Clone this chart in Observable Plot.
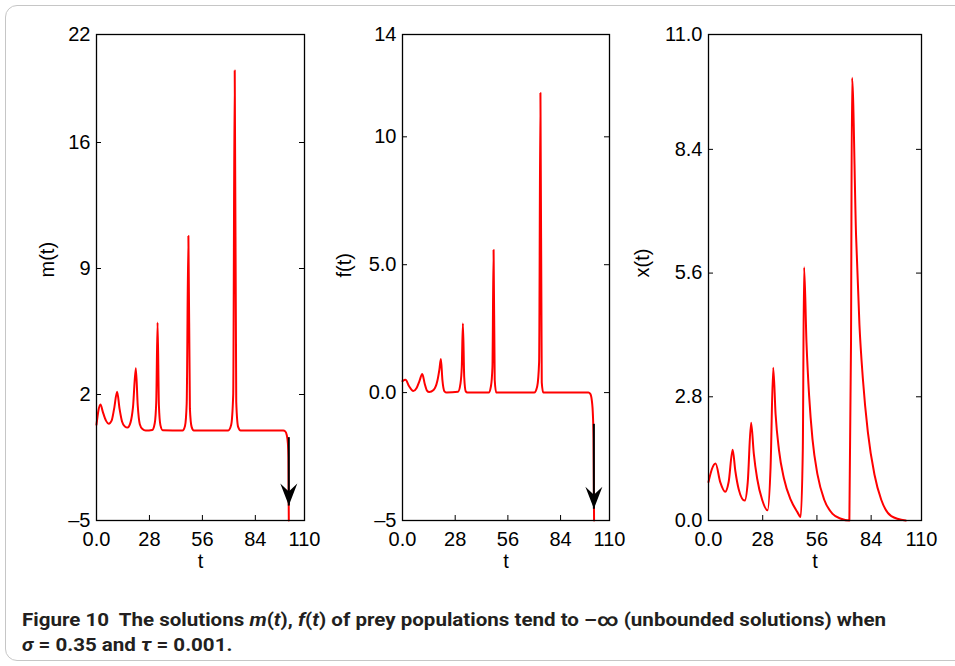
<!DOCTYPE html>
<html>
<head>
<meta charset="utf-8">
<script src="https://cdn.jsdelivr.net/npm/d3@7"></script>
<script src="https://cdn.jsdelivr.net/npm/@observablehq/plot@0.6"></script>
<style>
  html, body { margin: 0; padding: 0; background: #fff; }
  body { width: 955px; height: 666px; overflow: hidden; position: relative; font-family: "Liberation Sans", Arial, sans-serif; }
  #border { position: absolute; left: 5px; top: 5px; width: 1000px; height: 656px; border: 1px solid #c6c6c6; border-radius: 12px; box-sizing: border-box; }
  .panel { position: absolute; top: 0; }
  #caption { position: absolute; left: 22px; top: 607px; font-family: Roboto, "Open Sans", sans-serif; font-weight: 700; font-size: 18px; line-height: 25px; color: #231f20; transform-origin: 0 0; white-space: nowrap; }
</style>
</head>
<body>
<div id="border"></div>
<div id="p1" class="panel"></div>
<div id="p2" class="panel"></div>
<div id="p3" class="panel"></div>
<div id="caption">
  <div id="cap1">Figure 10&nbsp; The solutions <i>m</i>(<i>t</i>), <i>f</i>(<i>t</i>) of prey populations tend to –∞ (unbounded solutions) when</div>
  <div><i>σ</i> = 0.35 and <i>τ</i> = 0.001.</div>
</div>
<script>
// ---- shared x axis ----
const xTicks = [0, 28, 56, 84, 110];
const xTickLabels = ["0.0", "28", "56", "84", "110"];

// ---- panel 1: m(t) ----
const mTicks = [-5, 2, 9, 16, 22];
const mTickLabels = ["–5", "2", "9", "16", "22"];
const tM = [0, 1.0, 2.1, 3.3, 5.0, 6.5, 8.0, 9.3, 10.9, 12.2, 13.5, 15.0, 16.4, 18.0, 19.3, 20.8, 21.8, 22.9, 24.3, 26.0,
            29.5, 30.8, 31.6, 32.3, 33.0, 33.8, 35.0, 45.5, 46.8, 47.7, 48.6, 49.4, 50.3, 51.5,
            69.7, 71.2, 72.3, 73.1, 73.9, 74.9, 76.2, 98.8, 99.8, 100.6, 101.2, 101.5, 101.7];
const mVals = [0.32, 1.1, 1.45, 1.05, 0.55, 0.38, 0.55, 1.2, 2.15, 1.2, 0.5, 0.22, 0.16, 0.45, 1.3, 3.46, 1.4, 0.35, 0.08, 0.0,
               0.03, 0.4, 1.6, 6.0, 1.4, 0.3, 0.02, 0.0, 0.25, 1.5, 10.8, 1.2, 0.2, 0.0,
               0.0, 0.3, 2.0, 20.0, 1.6, 0.2, 0.0, 0.0, -0.05, -0.25, -0.7, -1.5, -5];
const mArrow = {t: 101.7, from: -0.37, to: -4.17};

// ---- panel 2: f(t) ----
const fTicks = [-5, 0, 5, 10, 14];
const fTickLabels = ["–5", "0.0", "5.0", "10", "14"];
const tF = [0, 1.6, 3.5, 5.7, 7.5, 9.0, 10.5, 11.8, 13.0, 14.2, 16.5, 18.5, 19.6, 20.4, 21.2, 22.3, 23.5,
            29.5, 30.8, 31.5, 32.1, 32.8, 33.6, 34.5, 45.8, 47.0, 47.8, 48.4, 49.0, 49.8,
            70.0, 71.6, 72.6, 73.3, 74.0, 74.8, 98.8, 99.8, 100.6, 101.2, 101.5, 101.8];
const fVals = [0.45, 0.5, 0.25, 0.06, 0.18, 0.45, 0.73, 0.35, 0.08, 0.02, 0.1, 0.45, 0.9, 1.31, 0.5, 0.05, 0.0,
               0.03, 0.35, 1.0, 2.7, 0.6, 0.05, 0.0, 0.0, 0.25, 1.0, 5.58, 0.5, 0.0,
               0.0, 0.25, 1.2, 11.71, 0.4, 0.0, 0.0, -0.05, -0.3, -0.9, -1.8, -5];
const fArrow = {t: 101.7, from: -1.22, to: -4.54};

// ---- panel 3: x(t) ----
const xsTicks = [0, 2.8, 5.6, 8.4, 11];
const xsTickLabels = ["0.0", "2.8", "5.6", "8.4", "11.0"];
const tX = [0, 1.73, 3.64, 6.06, 8.66, 10.4, 12.47, 13.86, 15.59, 18.7, 20.27, 22.0, 23.38, 25.12, 27.7, 30.5,
            32.05, 33.43, 34.64, 36.38, 38.97, 42.44, 45.9, 47.6, 48.7, 49.37, 50.6, 51.97, 53.7, 56.3, 59.76,
            64.1, 68.4, 72.75, 73.6, 74.14, 76.2, 77.95, 79.7, 82.3, 85.7, 89.2, 94.4, 101.85];
const xVals = [0.87, 1.16, 1.29, 0.87, 0.65, 0.87, 1.6, 1.12, 0.71, 0.45, 0.87, 2.21, 1.52, 0.95, 0.47, 0.23,
               1.2, 3.46, 2.41, 1.6, 0.95, 0.47, 0.19, 0.08, 1.6, 5.73, 4.03, 2.82, 1.84, 1.04, 0.47,
               0.15, 0.04, 0.0, 4.03, 10.02, 6.46, 4.43, 3.22, 2.0, 1.04, 0.47, 0.1, 0.0];

// filled, notched arrowhead (tip at the anchor point, pointing down)
const arrowHead = {
  draw(ctx) {
    ctx.moveTo(0, 0);
    ctx.lineTo(-8.5, -22);
    ctx.lineTo(0, -14);
    ctx.lineTo(8.5, -22);
    ctx.closePath();
  }
};

function panel({t, v, yDomain, yTicks, yTickLabels, yLabel, labelDx, arrow, width, marginLeft, marginRight}) {
  const marginTop = 34, marginBottom = 60, height = 580;
  const W = width - marginLeft - marginRight;
  const H = height - marginTop - marginBottom;
  const data = t.map((d, i) => ({t: d, v: v[i]}));
  const marks = [
    Plot.axisX({ticks: xTicks, tickFormat: d => xTickLabels[xTicks.indexOf(d)], tickSize: 0, tickPadding: 11, label: null, fontSize: 20}),
    Plot.axisY({ticks: yTicks, tickFormat: d => yTickLabels[yTicks.indexOf(d)], tickSize: 0, tickPadding: 6, label: null, fontSize: 20}),
    Plot.tickX(xTicks.slice(1, -1), {x: d => d, insetTop: H - 5, stroke: "black", strokeWidth: 1}),
    Plot.tickY(yTicks.slice(1, -1), {y: d => d, insetRight: W - 5, stroke: "black", strokeWidth: 1}),
    Plot.tickY(yTicks.slice(1, -1), {y: d => d, insetLeft: W - 5, stroke: "black", strokeWidth: 1}),
    Plot.line(data, {x: "t", y: "v", stroke: "#ff0000", strokeWidth: 2, curve: "monotone-x"}),
  ];
  if (arrow) {
    marks.push(
      Plot.link([arrow], {x1: "t", x2: "t", y1: "from", y2: "to", stroke: "black", strokeWidth: 2}),
      Plot.dot([arrow], {x: "t", y: "to", symbol: arrowHead, r: 10, fill: "black", stroke: "none"})
    );
  }
  marks.push(
    Plot.frame({stroke: "black", strokeWidth: 1.3}),
    Plot.text(["t"], {frameAnchor: "bottom", dy: 47, text: d => d, fontSize: 20}),
    Plot.text([yLabel], {frameAnchor: "left", dx: labelDx, rotate: -90, text: d => d, fontSize: 20})
  );
  return Plot.plot({
    width, height, marginTop, marginBottom, marginLeft, marginRight,
    x: {domain: [0, 110]},
    y: {domain: yDomain},
    style: {fontFamily: "'Liberation Sans', Arial, sans-serif", fontSize: "20px", color: "black", background: "transparent", overflow: "visible"},
    marks
  });
}

const p1 = panel({t: tM, v: mVals, yDomain: [-5, 22], yTicks: mTicks, yTickLabels: mTickLabels, yLabel: "m(t)", labelDx: -49, arrow: mArrow, width: 310, marginLeft: 96, marginRight: 6});
const p2 = panel({t: tF, v: fVals, yDomain: [-5, 14], yTicks: fTicks, yTickLabels: fTickLabels, yLabel: "f(t)", labelDx: -58, arrow: fArrow, width: 305, marginLeft: 92, marginRight: 6});
const p3 = panel({t: tX, v: xVals, yDomain: [0, 11], yTicks: xsTicks, yTickLabels: xsTickLabels, yLabel: "x(t)", labelDx: -66, arrow: null, width: 315, marginLeft: 93, marginRight: 9});

const e1 = document.getElementById("p1"); e1.style.left = "0px"; e1.appendChild(p1);
const e2 = document.getElementById("p2"); e2.style.left = "310px"; e2.appendChild(p2);
const e3 = document.getElementById("p3"); e3.style.left = "615px"; e3.appendChild(p3);

// fit caption line width to the reference (~864px)
const cap = document.getElementById("caption");
const w1 = document.getElementById("cap1").getBoundingClientRect().width;
cap.style.transform = `scaleX(${864 / w1})`;
</script>
</body>
</html>
